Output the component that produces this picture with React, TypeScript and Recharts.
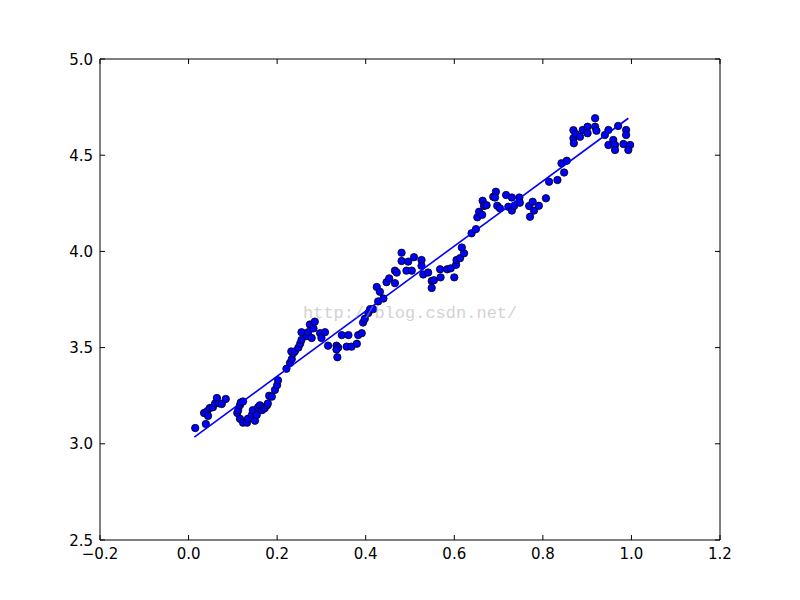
import React from 'react';
import { ScatterChart, Scatter, XAxis, YAxis } from 'recharts';

const pointX = [
  0.015, 0.039, 0.035, 0.042, 0.044, 0.048, 0.055, 0.06, 0.064, 0.069, 0.075, 0.084,
  0.11, 0.112, 0.116, 0.118, 0.123, 0.116, 0.123, 0.132, 0.134, 0.143, 0.145, 0.15, 0.154, 0.157, 0.161, 0.166, 0.172, 0.177, 0.179, 0.182, 0.188, 0.195, 0.2, 0.202,
  0.221, 0.229, 0.233, 0.236, 0.232, 0.24, 0.248, 0.252, 0.255, 0.255, 0.267, 0.27, 0.274, 0.282, 0.285, 0.278, 0.297, 0.3, 0.308, 0.315, 0.334, 0.338, 0.334, 0.336, 0.346, 0.361, 0.357, 0.368, 0.38, 0.383, 0.391, 0.394, 0.398, 0.406, 0.41, 0.417, 0.428,
  0.44, 0.425, 0.432, 0.447, 0.453, 0.466, 0.466, 0.47, 0.481, 0.481, 0.496, 0.492, 0.504, 0.509, 0.526, 0.526, 0.53, 0.541, 0.549, 0.554, 0.549, 0.568, 0.569, 0.584, 0.592, 0.6, 0.604, 0.605, 0.613, 0.622, 0.617,
  0.639, 0.649, 0.652, 0.656, 0.663, 0.664, 0.667, 0.673, 0.688, 0.694, 0.692, 0.697, 0.703, 0.717, 0.722, 0.73, 0.73, 0.735, 0.747, 0.748, 0.769, 0.777, 0.78, 0.771, 0.791, 0.807, 0.814, 0.833,
  0.848, 0.842, 0.854, 0.869, 0.869, 0.87, 0.874, 0.884, 0.89, 0.901, 0.901, 0.918, 0.918, 0.921, 0.94, 0.948, 0.959, 0.948, 0.963, 0.963, 0.97, 0.988, 0.988, 0.982, 0.997, 0.993,
];

const pointY = [
  3.082, 3.103, 3.16, 3.17, 3.145, 3.186, 3.19, 3.21, 3.238, 3.21, 3.207, 3.233,
  3.16, 3.175, 3.2, 3.215, 3.22, 3.13, 3.11, 3.11, 3.13, 3.15, 3.175, 3.12, 3.15, 3.19, 3.2, 3.175, 3.185, 3.2, 3.21, 3.25, 3.245, 3.28, 3.305, 3.33,
  3.39, 3.42, 3.44, 3.47, 3.48, 3.48, 3.5, 3.52, 3.54, 3.58, 3.56, 3.58, 3.62, 3.6, 3.635, 3.55, 3.575, 3.55, 3.58, 3.51, 3.51, 3.5, 3.49, 3.45, 3.565, 3.565, 3.505, 3.505, 3.52, 3.565, 3.575, 3.63, 3.65, 3.68, 3.7, 3.7, 3.74,
  3.755, 3.815, 3.79, 3.84, 3.86, 3.835, 3.9, 3.89, 3.993, 3.95, 3.947, 3.9, 3.9, 3.97, 3.955, 3.925, 3.88, 3.89, 3.846, 3.85, 3.81, 3.907, 3.865, 3.907, 3.912, 3.865, 3.93, 3.955, 3.965, 3.99, 4.02,
  4.094, 4.116, 4.177, 4.206, 4.19, 4.263, 4.236, 4.24, 4.284, 4.31, 4.28, 4.237, 4.224, 4.293, 4.232, 4.28, 4.212, 4.236, 4.28, 4.253, 4.236, 4.258, 4.212, 4.18, 4.237, 4.276, 4.362, 4.371,
  4.41, 4.458, 4.471, 4.63, 4.588, 4.562, 4.61, 4.596, 4.631, 4.648, 4.614, 4.692, 4.648, 4.627, 4.605, 4.631, 4.579, 4.553, 4.553, 4.527, 4.652, 4.631, 4.605, 4.558, 4.553, 4.527,
];

const fitX = [0.013, 0.993];
const fitY = [3.035, 4.692];

const xTicks = [-0.2, 0, 0.2, 0.4, 0.6, 0.8, 1.0, 1.2];
const yTicks = [2.5, 3.0, 3.5, 4.0, 4.5, 5.0];

const watermark = 'http://blog.csdn.net/';

const points = pointX.map((x, i) => ({ x, y: pointY[i] }));
const fitLine = fitX.map((x, i) => ({ x, y: fitY[i] }));

const FONT = 'DejaVu Sans';
const FS = 15;
const fmt = (v: number) => v.toFixed(1).replace('-', '\u2212');
const TL = 5;

const BottomTick = (p: any) => (
  <g>
    <line x1={p.x} y1={p.y} x2={p.x} y2={p.y - TL} stroke="#000" strokeWidth={1} />
    <text x={p.x} y={p.y + 19} textAnchor="middle" fontFamily={FONT} fontSize={FS} fill="#000">
      {fmt(p.payload.value)}
    </text>
  </g>
);
const TopTick = (p: any) => (
  <line x1={p.x} y1={p.y} x2={p.x} y2={p.y + TL} stroke="#000" strokeWidth={1} />
);
const LeftTick = (p: any) => (
  <g>
    <line x1={p.x} y1={p.y} x2={p.x + TL} y2={p.y} stroke="#000" strokeWidth={1} />
    <text x={p.x - 7} y={p.y + 5.5} textAnchor="end" fontFamily={FONT} fontSize={FS} fill="#000">
      {fmt(p.payload.value)}
    </text>
  </g>
);
const RightTick = (p: any) => (
  <line x1={p.x} y1={p.y} x2={p.x - TL} y2={p.y} stroke="#000" strokeWidth={1} />
);

const Dot = (p: any) => (
  <circle cx={p.cx} cy={p.cy} r={3.7} fill="#0000ff" stroke="#000" strokeWidth={0.8} />
);
const NoDot = () => <g />;

export default function App() {
  return (
    <div style={{ position: 'absolute', left: 0, top: 0, width: 800, height: 600, background: '#fff' }}>
      <ScatterChart width={800} height={600} margin={{ top: 49, right: 70, bottom: 30, left: 60 }}>
        <XAxis xAxisId="b" type="number" dataKey="x" orientation="bottom" domain={[-0.2, 1.2]} allowDataOverflow
          ticks={xTicks} interval={0} height={30} tickSize={0} tickMargin={0} tickLine={false}
          axisLine={{ stroke: '#000', strokeWidth: 1 }} tick={<BottomTick />} />
        <XAxis xAxisId="t" type="number" dataKey="x" orientation="top" domain={[-0.2, 1.2]} allowDataOverflow
          ticks={xTicks} interval={0} height={10} tickSize={0} tickMargin={0} tickLine={false}
          axisLine={{ stroke: '#000', strokeWidth: 1 }} tick={<TopTick />} />
        <YAxis yAxisId="l" type="number" dataKey="y" orientation="left" domain={[2.5, 5.0]} allowDataOverflow
          ticks={yTicks} interval={0} width={40} tickSize={0} tickMargin={0} tickLine={false}
          axisLine={{ stroke: '#000', strokeWidth: 1 }} tick={<LeftTick />} />
        <YAxis yAxisId="r" type="number" dataKey="y" orientation="right" domain={[2.5, 5.0]} allowDataOverflow
          ticks={yTicks} interval={0} width={10} tickSize={0} tickMargin={0} tickLine={false}
          axisLine={{ stroke: '#000', strokeWidth: 1 }} tick={<RightTick />} />
        <Scatter data={points} xAxisId="b" yAxisId="l" shape={<Dot />} isAnimationActive={false} />
        <Scatter data={fitLine} xAxisId="b" yAxisId="l" shape={<NoDot />} line={{ stroke: '#0000ff', strokeWidth: 1.6 }}
          lineType="joint" isAnimationActive={false} />
      </ScatterChart>
      <svg width={800} height={600} style={{ position: 'absolute', left: 0, top: 0, pointerEvents: 'none' }}>
        <text x={303} y={318} fontFamily="Liberation Mono" fontSize={17} fill="rgba(170,170,170,0.55)">
          {watermark}
        </text>
      </svg>
    </div>
  );
}
